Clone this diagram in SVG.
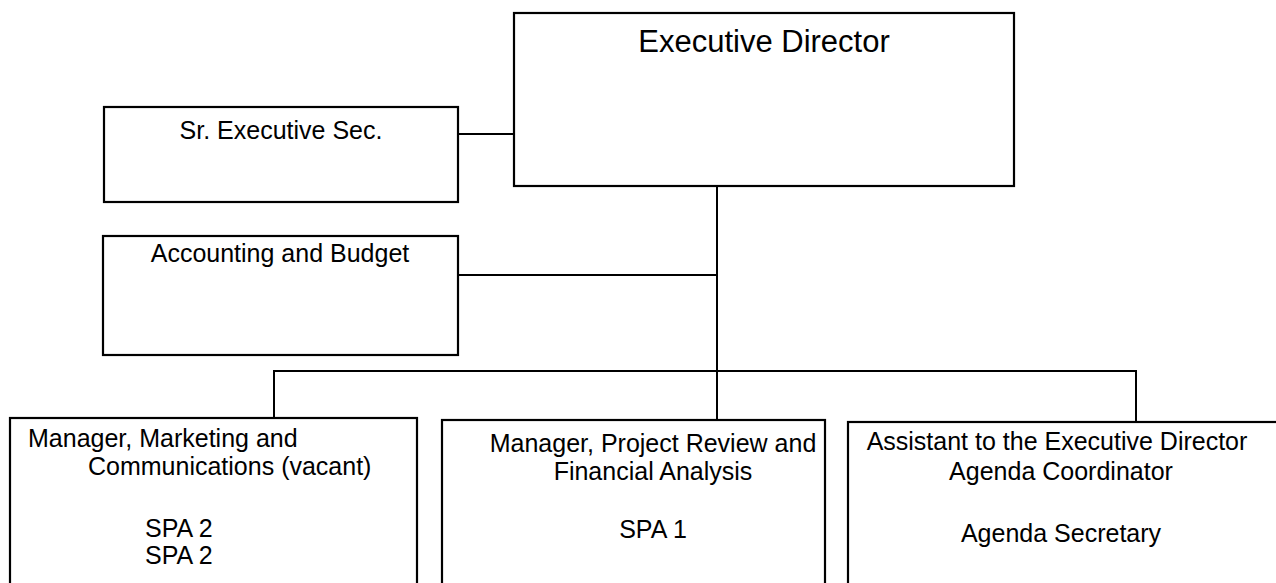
<svg xmlns="http://www.w3.org/2000/svg" width="1276" height="583" viewBox="0 0 1276 583">
<style>
.box{fill:#fff;stroke:#000;stroke-width:2.2}
.ln{fill:none;stroke:#000;stroke-width:2}
text{font-family:"Liberation Sans",Arial,sans-serif;fill:#000;font-size:25px}
.c{text-anchor:middle}
</style>
<rect width="1276" height="583" fill="#fff"/>
<g id="connectors">
<path class="ln" d="M458,134 H514"/>
<path class="ln" d="M717,186 V420"/>
<path class="ln" d="M458,275 H717"/>
<path class="ln" d="M274,418 V371 H1136 V422"/>
</g>
<g id="executive-director">
<rect class="box" x="514" y="13" width="500" height="173"/>
<text class="c" x="764" y="52" style="font-size:31px">Executive Director</text>
</g>
<g id="sr-executive-sec">
<rect class="box" x="104" y="107" width="354" height="95"/>
<text class="c" x="281" y="139">Sr. Executive Sec.</text>
</g>
<g id="accounting-budget">
<rect class="box" x="103" y="236" width="355" height="119"/>
<text class="c" x="280" y="262">Accounting and Budget</text>
</g>
<g id="manager-marketing">
<rect class="box" x="10" y="418" width="407" height="175"/>
<text x="28" y="447">Manager, Marketing and</text>
<text x="88" y="475">Communications (vacant)</text>
<text x="145" y="537">SPA 2</text>
<text x="145" y="564">SPA 2</text>
</g>
<g id="manager-project-review">
<rect class="box" x="442" y="420" width="383" height="175"/>
<text class="c" x="653" y="452">Manager, Project Review and</text>
<text class="c" x="653" y="480">Financial Analysis</text>
<text class="c" x="653" y="538">SPA 1</text>
</g>
<g id="assistant-executive-director">
<rect class="box" x="848" y="422" width="440" height="175"/>
<text class="c" x="1057" y="450">Assistant to the Executive Director</text>
<text class="c" x="1061" y="480">Agenda Coordinator</text>
<text class="c" x="1061" y="542">Agenda Secretary</text>
</g>
</svg>
